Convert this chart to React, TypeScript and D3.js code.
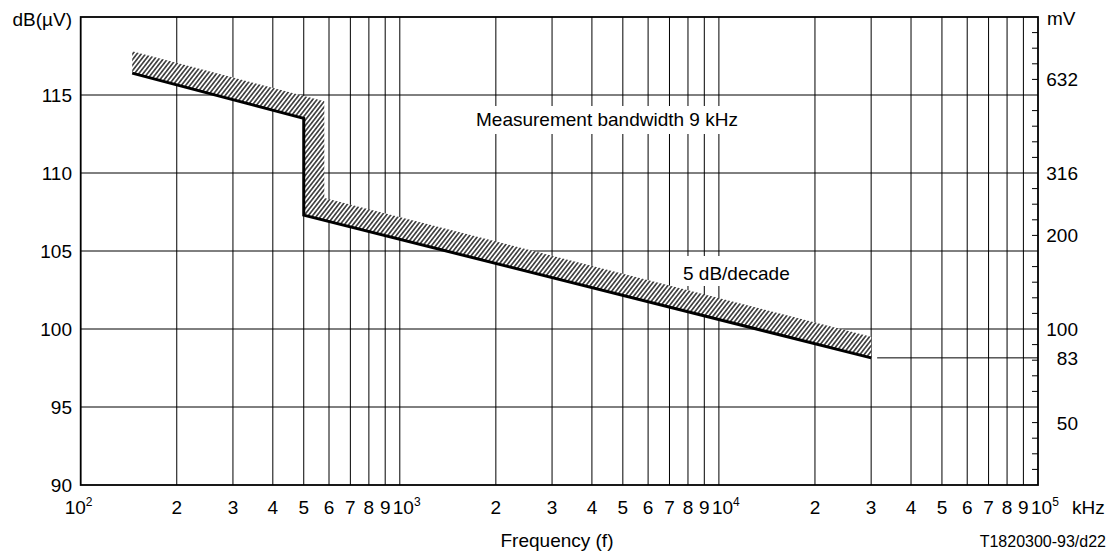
import { useEffect } from "react";
import * as d3 from "d3";

// limit line (bold) : frequency in kHz, level in dB(uV)
const limitFreq = [145, 500, 500, 30000];
const limitDb = [116.4, 113.5, 107.3, 98.15];

// upper edge of the hatched band
const bandFreq = [145, 580, 580, 30000];
const bandDb = [117.8, 114.6, 108.4, 99.5];

const yTicks = [90, 95, 100, 105, 110, 115];
const mvLabels = [632, 316, 200, 100, 50];
const endLabel = "83";
const minorDb = d3.range(91, 120).filter((d) => d % 5 !== 0);
const decades = [2, 3, 4, 5];
const mantissas = [2, 3, 4, 5, 6, 7, 8, 9];

const W = 1113;
const H = 556;
const FONT = "'Liberation Sans', Arial, Helvetica, sans-serif";

const x = d3.scaleLog().domain([1e2, 1e5]).range([80.7, 1038]);
const y = d3.scaleLinear().domain([90, 120]).range([485, 17]);

const mvToDb = (mv: number) => 20 * Math.log10(mv) + 60;

const App = () => {
  useEffect(() => {
    document.body.style.margin = "0";
  }, []);

  const lineGen = d3
    .line<number>()
    .x((_, i) => x(limitFreq[i]))
    .y((d) => y(d));

  const bandPts: [number, number][] = [
    ...bandFreq.map((f, i) => [x(f), y(bandDb[i])] as [number, number]),
    ...limitFreq
      .map((f, i) => [x(f), y(limitDb[i])] as [number, number])
      .reverse(),
  ];
  const bandPath = d3.line()(bandPts) + "Z";

  const minorFreqs: number[] = [];
  decades.slice(0, 3).forEach((d) =>
    mantissas.forEach((m) => minorFreqs.push(m * Math.pow(10, d))),
  );
  const decadeFreqs = [1e3, 1e4];

  const [x0, x1] = x.range();
  const [yb, yt] = y.range();
  const endDb = limitDb[limitDb.length - 1];
  const endF = limitFreq[limitFreq.length - 1];

  return (
    <svg
      width={W}
      height={H}
      style={{ display: "block", background: "#fff" }}
      fontFamily={FONT}
    >
      <defs>
        <pattern
          id="hatch"
          width="3.4"
          height="3.4"
          patternUnits="userSpaceOnUse"
          patternTransform="rotate(38)"
        >
          <rect width="3.4" height="3.4" fill="#fff" />
          <line x1="1.7" y1="0" x2="1.7" y2="3.4" stroke="#000" strokeWidth="1.25" />
        </pattern>
      </defs>

      {/* grid */}
      <g stroke="#000" strokeWidth={1}>
        {[...minorFreqs, ...decadeFreqs].map((f) => (
          <line key={f} x1={x(f)} x2={x(f)} y1={yt} y2={yb} />
        ))}
        {yTicks.slice(1).map((t) => (
          <line key={t} x1={x0} x2={x1} y1={y(t)} y2={y(t)} />
        ))}
        {minorDb.map((d) => (
          <line key={d} x1={x1 - 6} x2={x1} y1={y(d)} y2={y(d)} />
        ))}
        <line x1={x(endF) + 6} x2={x1} y1={y(endDb)} y2={y(endDb)} />
      </g>

      {/* annotations with white backing */}
      <rect x={470} y={106} width={278} height={28} fill="#fff" />
      <text x={476} y={126} fontSize={19}>
        Measurement bandwidth 9 kHz
      </text>
      <rect x={678} y={256} width={118} height={30} fill="#fff" />
      <text x={683} y={280} fontSize={19}>
        5 dB/decade
      </text>

      {/* band + limit */}
      <path d={bandPath} fill="url(#hatch)" stroke="none" />
      <path
        d={lineGen(limitDb) || ""}
        fill="none"
        stroke="#000"
        strokeWidth={3}
        strokeLinejoin="miter"
      />

      {/* frame */}
      <rect
        x={x0}
        y={yt}
        width={x1 - x0}
        height={yb - yt}
        fill="none"
        stroke="#000"
        strokeWidth={1.8}
      />

      {/* left axis */}
      <g fontSize={19} textAnchor="end">
        {yTicks.map((t) => (
          <text key={t} x={72} y={y(t)} dy="0.36em">
            {t}
          </text>
        ))}
        <text x={72} y={26}>
          dB(µV)
        </text>
      </g>

      {/* right axis */}
      <g fontSize={19} textAnchor="end">
        {mvLabels.map((m) => (
          <text key={m} x={1078} y={y(mvToDb(m))} dy="0.36em">
            {m}
          </text>
        ))}
        <text x={1078} y={y(endDb)} dy="0.36em">
          {endLabel}
        </text>
        <text x={1047} y={25} textAnchor="start">
          mV
        </text>
      </g>

      {/* bottom axis */}
      <g fontSize={19}>
        {minorFreqs.map((f) => (
          <text key={f} x={x(f)} y={514} textAnchor="middle">
            {Math.round(f / Math.pow(10, Math.floor(Math.log10(f) + 1e-9)))}
          </text>
        ))}
        {decades.map((d) => (
          <text key={d} x={x(Math.pow(10, d)) + (d === 2 ? -16 : -7)} y={514}>
            10
            <tspan fontSize={12} dy={-8}>
              {d}
            </tspan>
          </text>
        ))}
        <text x={1072} y={514}>
          kHz
        </text>
        <text x={557} y={547} textAnchor="middle">
          Frequency (f)
        </text>
        <text x={1106} y={547} textAnchor="end" fontSize={16}>
          T1820300-93/d22
        </text>
      </g>
    </svg>
  );
};

export default App;
